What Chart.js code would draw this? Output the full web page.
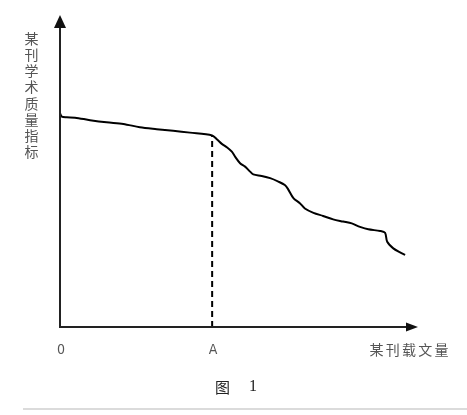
<!DOCTYPE html>
<html>
<head>
<meta charset="utf-8">
<script src="https://cdn.jsdelivr.net/npm/chart.js@4.4.1/dist/chart.umd.min.js"></script>
<style>
  html, body { margin: 0; padding: 0; background: #fff; }
  #wrap { position: relative; width: 467px; height: 415px; }
</style>
</head>
<body>
<div id="wrap"><canvas id="c" width="467" height="415"></canvas></div>
<script>
// ---- data (arbitrary units) ----
const curveX = [0, 0.5, 1.9, 4.2, 8.4, 13.0, 17.7, 22.3, 27.0, 31.6, 36.3, 42.5,
  43.8, 45.2, 46.6, 48.0, 48.9, 50.3, 51.7, 53.1, 54.0, 56.3, 58.7, 61.0, 62.8,
  63.7, 65.2, 67.0, 68.4, 70.8, 73.5, 76.3, 79.1, 81.5, 83.8, 86.1, 89.4, 90.8,
  91.4, 93.1, 95.0, 96.4];
const curveY = [68.5, 67.4, 67.2, 67.1, 66.3, 65.6, 65.1, 64.0, 63.4, 62.9, 62.3, 61.4,
  60.2, 58.7, 57.6, 56.2, 54.6, 52.5, 51.4, 49.8, 48.9, 48.4, 47.7, 46.6, 45.5,
  44.2, 41.3, 39.7, 38.0, 36.6, 35.6, 34.5, 33.8, 33.2, 32.1, 31.3, 30.8, 30.2,
  27.3, 25.2, 23.9, 23.1];
const pointA = 42.5;
const xTickValues = [0, pointA];
const xTickLabels = ['0', 'A'];
const xTitle = '某刊载文量';
const yTitle = '某刊学术质量指标';
const caption = ['图', '1'];

const curve = curveX.map((x, i) => ({ x, y: curveY[i] }));
const yAtA = curveY[curveX.indexOf(pointA)];
const dashed = [{ x: pointA, y: 0 }, { x: pointA, y: yAtA }];

const CJK = '"Noto Sans CJK SC", "Noto Sans", sans-serif';

const decor = {
  id: 'decor',
  afterDatasetsDraw(chart) {
    const ctx = chart.ctx;
    const xs = chart.scales.x, ys = chart.scales.y;
    const x0 = xs.getPixelForValue(0), y0 = ys.getPixelForValue(0);
    const top = chart.chartArea.top, right = chart.chartArea.right;
    ctx.save();
    // axes
    ctx.strokeStyle = '#222';
    ctx.fillStyle = '#111';
    ctx.lineWidth = 2;
    ctx.beginPath();
    ctx.moveTo(x0, y0); ctx.lineTo(x0, top + 12);
    ctx.moveTo(x0 - 1, y0); ctx.lineTo(right - 12, y0);
    ctx.stroke();
    // arrow heads
    ctx.beginPath();
    ctx.moveTo(x0, top); ctx.lineTo(x0 - 6, top + 13); ctx.lineTo(x0 + 6, top + 13); ctx.closePath();
    ctx.fill();
    ctx.beginPath();
    ctx.moveTo(right, y0); ctx.lineTo(right - 12, y0 - 4.5); ctx.lineTo(right - 12, y0 + 4.5); ctx.closePath();
    ctx.fill();

    // tick labels
    ctx.fillStyle = '#555';
    ctx.font = '14px "Liberation Sans Narrow", "DejaVu Sans Condensed", "Liberation Sans", sans-serif';
    ctx.textAlign = 'center';
    ctx.textBaseline = 'middle';
    xTickValues.forEach((v, i) => {
      ctx.fillText(xTickLabels[i], xs.getPixelForValue(v) + 1, y0 + 23);
    });
    // x title
    ctx.font = '14px ' + CJK;
    const xc = [...xTitle];
    xc.forEach((ch, i) => ctx.fillText(ch, 376.5 + i * 16.25, y0 + 23));
    // y title vertical
    const yc = [...yTitle];
    yc.forEach((ch, i) => ctx.fillText(ch, 31.5, 38.5 + i * 16.2));
    // caption
    ctx.fillStyle = '#222';
    ctx.font = '15px ' + CJK;
    ctx.fillText(caption[0], 222.5, 387);
    ctx.font = '16px "Liberation Serif", serif';
    ctx.fillText(caption[1], 253, 387);
    // separator
    ctx.strokeStyle = '#cfcfcf';
    ctx.lineWidth = 1.5;
    ctx.beginPath();
    ctx.moveTo(23, 409); ctx.lineTo(467, 409);
    ctx.stroke();
    ctx.restore();
  }
};

new Chart(document.getElementById('c'), {
  type: 'scatter',
  data: {
    datasets: [
      { data: curve, showLine: true, borderColor: '#000', borderWidth: 2,
        pointRadius: 0, tension: 0.3, fill: false },
      { data: dashed, showLine: true, borderColor: '#000', borderWidth: 2,
        borderDash: [6, 4], pointRadius: 0, fill: false }
    ]
  },
  options: {
    responsive: false,
    animation: false,
    layout: { padding: { left: 60, right: 49, top: 15, bottom: 88 } },
    plugins: { legend: { display: false }, tooltip: { enabled: false } },
    scales: {
      x: { type: 'linear', min: 0, max: 100, display: false },
      y: { type: 'linear', min: 0, max: 100, display: false }
    }
  },
  plugins: [decor]
});
</script>
</body>
</html>
